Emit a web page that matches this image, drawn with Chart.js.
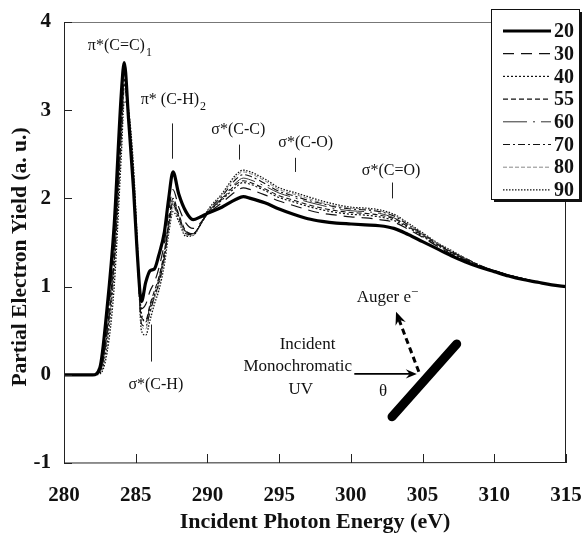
<!DOCTYPE html>
<html>
<head>
<meta charset="utf-8">
<script src="https://cdn.jsdelivr.net/npm/chart.js@4.4.0/dist/chart.umd.min.js"></script>
<style>
  html, body { margin: 0; padding: 0; background: #fff; }
  canvas { display: block; }
</style>
</head>
<body>
<canvas id="nexafs" width="585" height="533"></canvas>
<script>
// photon energy (eV), shared by every angle
const energy = [280, 282, 282.5, 283, 283.5, 284, 284.2, 284.5, 284.85, 285.1,
  285.4, 285.7, 286, 286.3, 286.6, 287, 287.3, 287.6, 288, 288.5,
  289, 289.5, 290, 291, 292, 292.5, 293, 294, 295, 296,
  297, 298, 299, 300, 301, 302, 303, 304, 305, 306,
  307, 308, 309, 310, 311, 312, 313, 314, 315];

// partial electron yield for each incidence angle (deg)
const y20 = [0, 0, 0.08, 0.75, 1.7, 3.2, 3.54, 2.9, 2.1, 1.4,
  0.83, 1.05, 1.18, 1.2, 1.35, 1.62, 2.0, 2.30, 2.05, 1.85,
  1.76, 1.79, 1.83, 1.9, 1.99, 2.02, 2.0, 1.95, 1.88, 1.82,
  1.77, 1.74, 1.72, 1.71, 1.70, 1.69, 1.66, 1.59, 1.51, 1.43,
  1.35, 1.28, 1.22, 1.17, 1.12, 1.08, 1.05, 1.02, 1.0];
const y30 = [0, 0, 0.05, 0.6, 1.55, 3.05, 3.45, 2.95, 2.1, 1.35,
  0.75, 0.8, 0.95, 1.05, 1.2, 1.5, 1.85, 2.1, 1.9, 1.72,
  1.66, 1.72, 1.82, 1.95, 2.08, 2.12, 2.1, 2.04, 1.97, 1.92,
  1.87, 1.83, 1.81, 1.79, 1.78, 1.76, 1.73, 1.65, 1.56, 1.46,
  1.37, 1.30, 1.23, 1.18, 1.13, 1.09, 1.05, 1.02, 1.0];
const y40 = [0, 0, 0.02, 0.35, 1.2, 2.7, 3.3, 3.0, 2.3, 1.5,
  0.7, 0.6, 0.75, 0.9, 1.05, 1.35, 1.7, 1.95, 1.8, 1.62,
  1.6, 1.7, 1.83, 1.98, 2.13, 2.18, 2.16, 2.09, 2.01, 1.96,
  1.91, 1.87, 1.84, 1.82, 1.81, 1.79, 1.75, 1.67, 1.57, 1.47,
  1.38, 1.30, 1.23, 1.18, 1.13, 1.09, 1.05, 1.02, 1.0];
const y55 = [0, 0, 0.04, 0.5, 1.4, 2.9, 3.35, 2.9, 2.15, 1.4,
  0.65, 0.62, 0.8, 0.95, 1.1, 1.4, 1.75, 2.0, 1.82, 1.63,
  1.6, 1.7, 1.83, 1.99, 2.16, 2.2, 2.18, 2.11, 2.03, 1.98,
  1.93, 1.89, 1.86, 1.84, 1.83, 1.81, 1.77, 1.68, 1.58, 1.48,
  1.39, 1.31, 1.24, 1.18, 1.13, 1.09, 1.05, 1.02, 1.0];
const y60 = [0, 0, 0.04, 0.5, 1.4, 2.85, 3.3, 2.9, 2.15, 1.4,
  0.62, 0.6, 0.78, 0.92, 1.08, 1.38, 1.72, 1.97, 1.8, 1.62,
  1.6, 1.7, 1.84, 2.0, 2.18, 2.23, 2.21, 2.14, 2.06, 2.01,
  1.96, 1.92, 1.88, 1.86, 1.85, 1.83, 1.78, 1.69, 1.59, 1.49,
  1.39, 1.31, 1.24, 1.18, 1.13, 1.09, 1.05, 1.02, 1.0];
const y70 = [0, 0, 0.03, 0.45, 1.3, 2.75, 3.25, 2.95, 2.2, 1.45,
  0.58, 0.55, 0.72, 0.88, 1.03, 1.33, 1.68, 1.93, 1.78, 1.6,
  1.59, 1.7, 1.85, 2.02, 2.22, 2.27, 2.25, 2.17, 2.08, 2.03,
  1.98, 1.94, 1.9, 1.88, 1.87, 1.85, 1.8, 1.70, 1.60, 1.49,
  1.40, 1.32, 1.24, 1.18, 1.13, 1.09, 1.05, 1.02, 1.0];
const y80 = [0, 0, 0.03, 0.4, 1.25, 2.7, 3.2, 2.95, 2.2, 1.45,
  0.55, 0.52, 0.7, 0.86, 1.0, 1.3, 1.65, 1.9, 1.76, 1.58,
  1.58, 1.7, 1.86, 2.04, 2.25, 2.3, 2.28, 2.2, 2.1, 2.05,
  2.0, 1.95, 1.91, 1.89, 1.88, 1.86, 1.81, 1.71, 1.60, 1.50,
  1.40, 1.32, 1.24, 1.18, 1.13, 1.09, 1.05, 1.02, 1.0];
const y90 = [0, 0, 0.01, 0.25, 1.0, 2.5, 3.1, 3.0, 2.35, 1.55,
  0.5, 0.45, 0.62, 0.8, 0.95, 1.25, 1.6, 1.85, 1.74, 1.57,
  1.58, 1.7, 1.86, 2.05, 2.27, 2.32, 2.3, 2.22, 2.12, 2.07,
  2.02, 1.97, 1.93, 1.9, 1.89, 1.87, 1.82, 1.72, 1.61, 1.50,
  1.41, 1.32, 1.24, 1.18, 1.13, 1.09, 1.05, 1.02, 1.0];

const xTicks = [280, 285, 290, 295, 300, 305, 310, 315];
const yTicks = [-1, 0, 1, 2, 3, 4];

// peak assignments: label anchor and marker line, in data units
const peaks = [
  { text: 'π*(C=C)', sub: '1', x: 281.66, y: 3.73, align: 'left' },
  { text: 'π* (C-H)', sub: '2', x: 285.35, y: 3.12, align: 'left', line: [287.5, 2.85, 2.45] },
  { text: 'σ*(C-C)', x: 292.15, y: 2.78, align: 'center', line: [292.2, 2.61, 2.44] },
  { text: 'σ*(C-O)', x: 296.85, y: 2.63, align: 'center', line: [296.1, 2.46, 2.30] },
  { text: 'σ*(C=O)', x: 302.8, y: 2.31, align: 'center', line: [302.9, 2.18, 2.00] },
  { text: 'σ*(C-H)', x: 286.4, y: -0.11, align: 'center', line: [286.1, 0.57, 0.15] }
];

const SERIF = '"Liberation Serif", "Times New Roman", serif';

const series = [
  { label: '20', vals: y20, color: '#000', width: 3.2, dash: [] },
  { label: '30', vals: y30, color: '#111', width: 1.2, dash: [11, 7] },
  { label: '40', vals: y40, color: '#111', width: 1.2, dash: [2, 2] },
  { label: '55', vals: y55, color: '#111', width: 1.1, dash: [5, 3] },
  { label: '60', vals: y60, color: '#333', width: 1, dash: [24, 6, 2, 6] },
  { label: '70', vals: y70, color: '#111', width: 1.1, dash: [7, 3, 2, 3] },
  { label: '80', vals: y80, color: '#888', width: 1, dash: [4, 2] },
  { label: '90', vals: y90, color: '#111', width: 1.3, dash: [1.5, 1.5] }
];

function arrowHead(ctx, x1, y1, x2, y2, size) {
  const a = Math.atan2(y2 - y1, x2 - x1);
  ctx.beginPath();
  ctx.moveTo(x2, y2);
  ctx.lineTo(x2 - size * Math.cos(a - 0.4), y2 - size * Math.sin(a - 0.4));
  ctx.lineTo(x2 - size * 0.6 * Math.cos(a), y2 - size * 0.6 * Math.sin(a));
  ctx.lineTo(x2 - size * Math.cos(a + 0.4), y2 - size * Math.sin(a + 0.4));
  ctx.closePath();
  ctx.fill();
}

const decor = {
  id: 'decor',
  afterDraw(chart) {
    const { ctx, chartArea: a, scales: { x, y } } = chart;
    const P = (vx, vy) => [x.getPixelForValue(vx), y.getPixelForValue(vy)];
    ctx.save();

    // frame
    ctx.strokeStyle = '#777';
    ctx.lineWidth = 1;
    ctx.beginPath();
    ctx.moveTo(a.left, a.top + 0.5); ctx.lineTo(a.right, a.top + 0.5);
    ctx.stroke();
    ctx.strokeStyle = '#222';
    ctx.beginPath();
    ctx.moveTo(a.right - 0.5, a.top); ctx.lineTo(a.right - 0.5, a.bottom);
    ctx.moveTo(a.left + 0.5, a.top); ctx.lineTo(a.left + 0.5, a.bottom);
    ctx.lineTo(a.right, a.bottom - 0.5);
    ctx.stroke();

    // inward ticks
    ctx.beginPath();
    xTicks.forEach(v => {
      const px = Math.round(x.getPixelForValue(v)) + 0.5;
      ctx.moveTo(px, a.bottom); ctx.lineTo(px, a.bottom - 9);
    });
    yTicks.forEach(v => {
      const py = Math.round(y.getPixelForValue(v)) + 0.5;
      ctx.moveTo(a.left, py); ctx.lineTo(a.left + 8, py);
    });
    ctx.stroke();

    // axis titles
    ctx.fillStyle = '#111';
    ctx.font = 'bold 22px ' + SERIF;
    ctx.textAlign = 'center';
    ctx.textBaseline = 'middle';
    ctx.fillText('Incident Photon Energy (eV)', (a.left + a.right) / 2, 522);
    ctx.save();
    ctx.translate(20, 257);
    ctx.rotate(-Math.PI / 2);
    ctx.font = 'bold 21.5px ' + SERIF;
    ctx.fillText('Partial Electron Yield (a. u.)', 0, 0);
    ctx.restore();

    // peak labels
    ctx.lineWidth = 1;
    ctx.strokeStyle = '#222';
    peaks.forEach(p => {
      const [px, py] = P(p.x, p.y);
      ctx.textAlign = p.align;
      ctx.font = '16px ' + SERIF;
      ctx.fillText(p.text, px, py);
      if (p.sub) {
        const w = ctx.measureText(p.text).width;
        ctx.font = '12px ' + SERIF;
        ctx.textAlign = 'left';
        ctx.fillText(p.sub, px + w + 1, py + 7);
      }
      if (p.line) {
        const [lx, ly1] = P(p.line[0], p.line[1]);
        const [, ly2] = P(p.line[0], p.line[2]);
        ctx.beginPath();
        ctx.moveTo(Math.round(lx) + 0.5, ly1); ctx.lineTo(Math.round(lx) + 0.5, ly2);
        ctx.stroke();
      }
    });

    // geometry inset
    ctx.font = '17px ' + SERIF;
    ctx.textAlign = 'center';
    let q = P(296.98, 0.34); ctx.fillText('Incident', q[0], q[1]);
    q = P(296.3, 0.09); ctx.fillText('Monochromatic', q[0], q[1]);
    q = P(296.5, -0.17); ctx.fillText('UV', q[0], q[1]);
    q = P(302.25, -0.19); ctx.fillText('θ', q[0], q[1]);
    q = P(302.3, 0.88); ctx.fillText('Auger e', q[0], q[1]);
    const aw = ctx.measureText('Auger e').width;
    ctx.font = '13px ' + SERIF;
    ctx.textAlign = 'left';
    ctx.fillText('−', q[0] + aw / 2, q[1] - 5);

    // incident beam
    const s0 = P(300.24, 0.01), s1 = P(304.6, 0.01);
    ctx.strokeStyle = '#000';
    ctx.fillStyle = '#000';
    ctx.lineWidth = 1.6;
    ctx.beginPath(); ctx.moveTo(s0[0], s0[1]); ctx.lineTo(s1[0] - 4, s1[1]); ctx.stroke();
    arrowHead(ctx, s0[0], s0[1], s1[0], s1[1], 12);

    // sample
    const b0 = P(302.87, -0.476), b1 = P(307.38, 0.35);
    ctx.lineWidth = 9;
    ctx.lineCap = 'round';
    ctx.beginPath(); ctx.moveTo(b0[0], b0[1]); ctx.lineTo(b1[0], b1[1]); ctx.stroke();
    ctx.lineCap = 'butt';

    // Auger electron
    const e0 = P(304.74, 0.034), e1 = P(303.15, 0.714);
    ctx.lineWidth = 3;
    ctx.setLineDash([6, 4]);
    ctx.beginPath(); ctx.moveTo(e0[0], e0[1]); ctx.lineTo(e1[0] + 3, e1[1] + 8); ctx.stroke();
    ctx.setLineDash([]);
    arrowHead(ctx, e0[0], e0[1], e1[0], e1[1], 14);

    // legend box with shadow
    const lx = 491, ly = 9, lw = 88, lh = 190;
    ctx.fillStyle = '#111';
    ctx.fillRect(lx + 3, ly + 3, lw, lh);
    ctx.fillStyle = '#fff';
    ctx.fillRect(lx, ly, lw, lh);
    ctx.strokeStyle = '#111';
    ctx.lineWidth = 1;
    ctx.strokeRect(lx + 0.5, ly + 0.5, lw, lh);
    chart.data.datasets.forEach((ds, i) => {
      const ry = 31 + i * 22.7;
      ctx.strokeStyle = ds.borderColor;
      ctx.lineWidth = ds.borderWidth;
      ctx.setLineDash(ds.borderDash);
      ctx.beginPath(); ctx.moveTo(503, ry); ctx.lineTo(551, ry); ctx.stroke();
      ctx.setLineDash([]);
      ctx.fillStyle = '#111';
      ctx.font = 'bold 20px ' + SERIF;
      ctx.textAlign = 'left';
      ctx.textBaseline = 'middle';
      ctx.fillText(ds.label, 554, ry + 1);
    });

    ctx.restore();
  }
};

new Chart(document.getElementById('nexafs'), {
  type: 'line',
  data: {
    datasets: series.map(s => ({
      label: s.label,
      data: energy.map((e, i) => ({ x: e, y: s.vals[i] })),
      borderColor: s.color,
      borderWidth: s.width,
      borderDash: s.dash,
      pointRadius: 0,
      fill: false,
      cubicInterpolationMode: 'monotone'
    }))
  },
  options: {
    responsive: false,
    animation: false,
    events: [],
    layout: { padding: { top: 22, right: 19, left: 4, bottom: 0 } },
    plugins: { legend: { display: false }, tooltip: { enabled: false } },
    scales: {
      x: {
        type: 'linear', min: 280, max: 315,
        afterFit: s => { s.height = 70; s.paddingLeft = 0; s.paddingRight = 0; },
        afterBuildTicks: s => { s.ticks = xTicks.map(v => ({ value: v })); },
        grid: { display: false },
        border: { display: false },
        ticks: { color: '#111', padding: 12, maxRotation: 0,
          font: { family: SERIF, size: 21, weight: 'bold' } }
      },
      y: {
        min: -1, max: 4,
        afterFit: s => { s.width = 60; s.paddingTop = 0; s.paddingBottom = 0; },
        afterBuildTicks: s => { s.ticks = yTicks.map(v => ({ value: v })); },
        grid: { display: false },
        border: { display: false },
        ticks: { color: '#111', padding: 5,
          font: { family: SERIF, size: 21, weight: 'bold' } }
      }
    }
  },
  plugins: [decor]
});
</script>
</body>
</html>
